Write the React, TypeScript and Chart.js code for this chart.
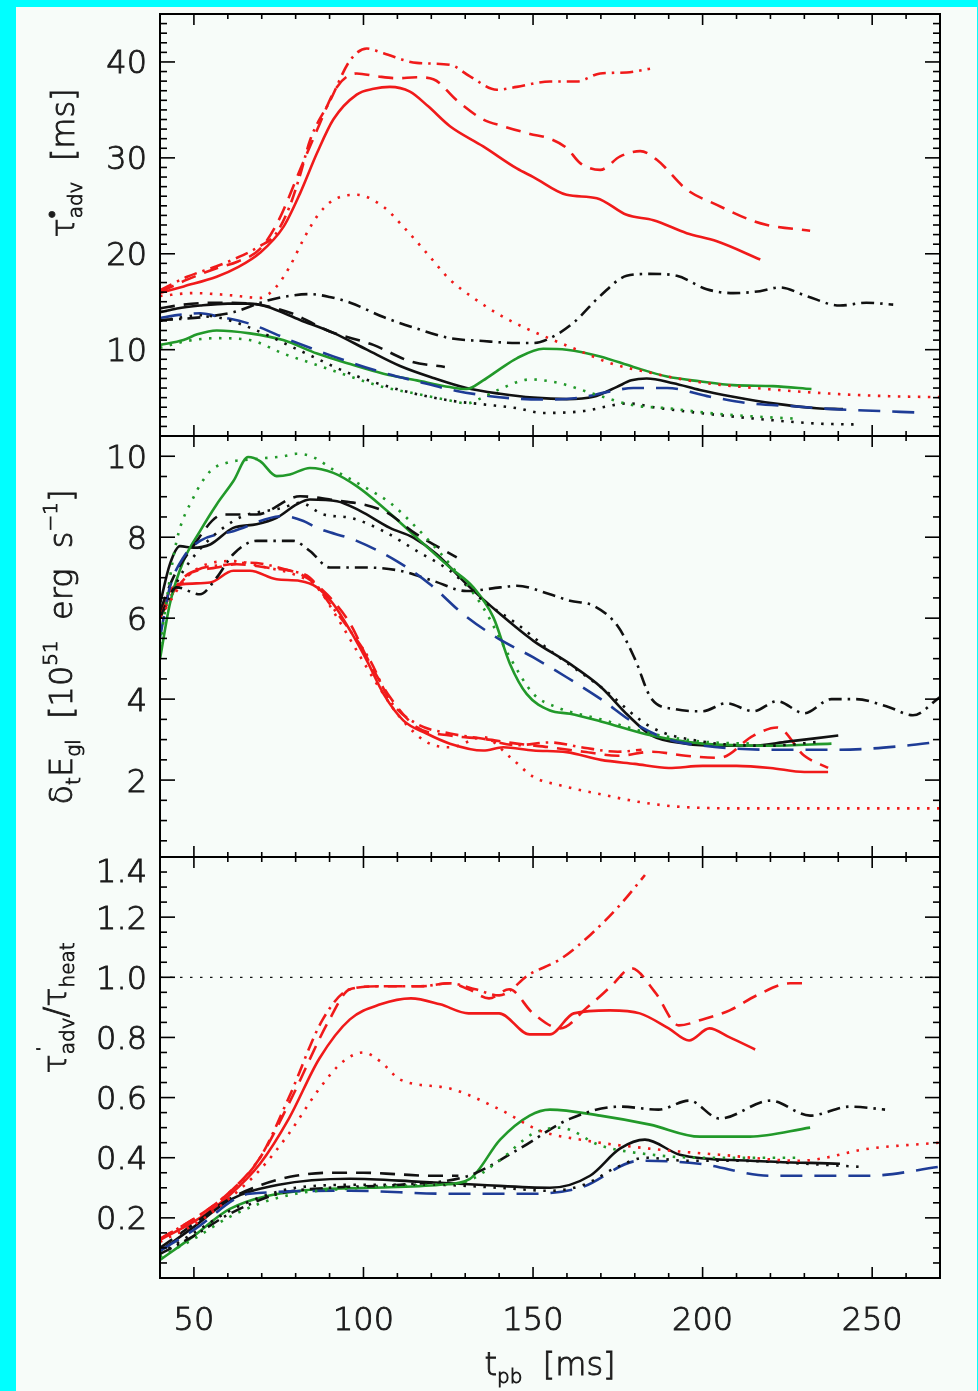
import React, { useEffect, useRef } from "react";
import { Chart, registerables } from "chart.js";

Chart.register(...registerables);

type Pt = [number, number];

// ---- shared time axis (ms post bounce) ----
const T_MIN = 40;
const T_MAX = 270;
const T_MAJOR = [50, 100, 150, 200, 250];
const T_MINOR_STEP = 10;

// ---- panel 1: advection time scale tau_adv [ms] ----
const advRedSolid: Pt[] = [[40,15.9],[47,16.6],[56.7,17.6],[63,18.6],[69.5,20.1],[76.4,22.8],[81.3,26.3],[86.3,30.5],[91.1,34],[98,36.6],[103,37.2],[107.8,37.4],[113.7,36.9],[119,35.4],[125.5,33.3],[135.3,31.2],[145.2,28.9],[150.1,28.0],[159.9,26.15],[168.8,25.8],[177.6,24.06],[185.5,23.5],[195.3,22.15],[204.2,21.3],[217,19.4]];
const advRedDashed: Pt[] = [[40,16.0],[48,17.3],[56.7,18.5],[63,19.2],[69.5,20.5],[75,23.5],[81.3,28.75],[86.3,32.9],[92.2,37.4],[98,38.8],[104,38.5],[110,38.3],[115.7,38.4],[120.6,38.2],[127.5,36],[135.3,34],[141.2,33.3],[149.1,32.5],[155,32.0],[160,31.0],[163.9,29.45],[169.8,28.75],[175.7,30.15],[181.6,30.7],[186.5,29.8],[195.3,26.7],[204.2,25.1],[215,23.4],[219,23.0],[231.7,22.4]];
const advRedDashDot: Pt[] = [[40,16.2],[48,17.6],[56.7,18.7],[61.6,19.4],[69.5,20.8],[74,22],[78.3,25],[81.3,28.2],[84.3,31.9],[90.2,36],[96.1,40.2],[101,41.4],[105.9,40.9],[115.7,39.9],[125.5,39.7],[131.4,38.5],[139.3,37.1],[145.2,37.4],[155,37.96],[162.9,37.96],[169.8,38.8],[177.6,38.9],[184.5,39.3]];
const advRedDotted: Pt[] = [[40,15.6],[50,15.9],[60,15.7],[69.5,15.4],[74.4,16.6],[78.3,18.7],[82.3,21.5],[86.3,23.9],[91.1,25.6],[98,26.15],[105.9,24.9],[111.8,22.8],[118.6,20.1],[125.5,17.3],[132.4,15.4],[140.3,13.6],[148.1,12.2],[156,11.0],[162.9,10.0],[172.7,8.6],[184.5,7.6],[199.2,6.6],[218.9,5.9],[238.5,5.4],[255,5.15],[270,5.05]];
const advBlackSolid: Pt[] = [[40,13.9],[45,14.3],[51.8,14.6],[60,14.8],[66.5,14.8],[71.4,14.5],[81.3,13.1],[91.1,11.75],[101,10.0],[110.8,8.3],[120.6,7.05],[130.4,6.0],[140.3,5.4],[150.1,5.0],[159.9,4.85],[167.8,5.1],[174.6,6.1],[179,6.8],[183.5,7.0],[191.4,6.5],[199.2,5.8],[209,5.1],[220.8,4.4],[233.6,3.9],[241.4,3.8]];
const advBlackDashed: Pt[] = [[40,14.3],[47,14.7],[55.2,14.9],[67,14.8],[72,14.5],[78.8,13.8],[90.1,11.9],[102.9,10.5],[113.7,8.8],[124,8.2]];
const advBlackDashDot: Pt[] = [[40,13.1],[46,13.2],[52.8,13.4],[61.6,13.9],[71.4,15.1],[78,15.6],[84.2,15.8],[90,15.5],[96.1,14.9],[105.9,13.4],[115.7,12.2],[125.5,11.2],[135.3,10.9],[145.2,10.7],[150.1,10.7],[155,11.2],[161.9,12.8],[169.8,15.6],[177.6,17.7],[184.5,17.9],[192.4,17.7],[201.2,16.3],[209,15.9],[216.9,16.1],[222.8,16.5],[230.6,15.6],[240.5,14.6],[248.3,14.9],[256.2,14.7]];
const advBlackDotted: Pt[] = [[40,13.0],[45,13.3],[51.8,13.6],[58,13.3],[66.5,12.3],[81.3,9.9],[96.1,7.5],[110.8,5.8],[125.5,4.7],[135.3,4.3],[145.2,3.9],[153,3.4],[164.9,3.6],[172,4.1],[177.6,4.4],[187.4,3.9],[204.2,3.2],[218.9,2.7],[233.6,2.3],[245.4,2.2]];
const advBlue: Pt[] = [[40,13.3],[45,13.6],[51.8,13.8],[56.7,13.5],[66.5,12.7],[78.3,11.0],[91.1,9.3],[103.9,7.8],[115.7,6.7],[127.5,5.7],[137.4,5.15],[145,4.9],[152,4.8],[163.9,5.0],[172,5.6],[179.6,6.0],[189.5,6.0],[202.2,5.1],[214,4.4],[226.8,4.1],[238.5,3.8],[252.3,3.6],[263,3.45]];
const advGreenSolid: Pt[] = [[40,10.5],[46.9,11.0],[51,11.6],[56.7,12.0],[66.5,11.7],[76.3,11.0],[86.3,9.6],[96.1,8.5],[105.9,7.5],[115.7,6.8],[125.5,6.1],[130.4,5.9],[135.3,6.8],[140.3,8.0],[145.2,9.1],[153,10.1],[159.9,10.0],[169.8,9.3],[179.6,8.2],[189.5,7.2],[199.2,6.7],[209,6.3],[220.8,6.2],[232.1,5.9]];
const advGreenDotted: Pt[] = [[40,10.2],[47.9,10.9],[56.7,11.2],[66.5,11.0],[76.3,9.6],[86.3,8.4],[96.1,7.2],[105.9,6.1],[115.7,5.4],[125.5,4.7],[130.4,4.4],[135,5.0],[140.3,5.9],[149.1,6.9],[157.9,6.5],[167.8,5.4],[179.6,4.2],[189.5,3.9],[203.3,3.35],[217,3.0],[227.8,2.8]];

// ---- panel 2: gain rate d/dt E_gl [1e51 erg/s] ----
const gainRedSolid: Pt[] = [[40,6.0],[42.9,6.67],[46.9,6.84],[54.8,6.88],[61.6,7.17],[66.5,7.17],[74.4,6.96],[81.3,6.92],[86.3,6.76],[91.1,6.35],[96.1,5.69],[101,4.95],[105.9,4.13],[111.8,3.47],[118.6,3.15],[125.5,2.9],[135.3,2.73],[141.2,2.81],[150.1,2.73],[159.9,2.69],[170,2.5],[180,2.4],[190,2.3],[200,2.35],[210,2.35],[220,2.3],[230,2.2],[237,2.2]];
const gainRedDashed: Pt[] = [[40,6.02],[46.9,7.0],[56.7,7.25],[62.6,7.33],[71.4,7.25],[81.3,7.09],[89.2,6.59],[96.1,5.86],[101,5.03],[107.8,4.05],[115.7,3.31],[125.5,3.1],[135.3,3.02],[145.2,2.9],[155,2.81],[165,2.7],[175,2.6],[185,2.7],[195,2.6],[205,2.55],[215,3.1],[222,3.3],[230,2.6],[237,2.3]];
const gainRedDashDot: Pt[] = [[40,6.18],[48.8,7.09],[60.6,7.33],[66.5,7.37],[78.3,7.17],[84.2,7.0],[90.1,6.35],[96.1,5.69],[102,4.95],[107.8,3.97],[115.7,3.39],[125.5,3.15],[135.3,3.02],[145.2,2.86],[155,2.93],[165,2.8],[175,2.7],[182,2.75]];
const gainRedDotted: Pt[] = [[40,6.02],[48.8,7.09],[61.6,7.41],[71.4,7.25],[79.3,7.09],[86.3,6.76],[92.2,6.02],[98,5.2],[103.9,4.38],[110.8,3.55],[118.6,2.94],[125.5,2.81],[135.3,3.06],[143.2,2.57],[150.1,2.08],[158,1.87],[170,1.65],[182,1.45],[195,1.33],[215,1.3],[240,1.3],[270,1.3]];
const gainBlackSolid: Pt[] = [[40,6.35],[42.9,7.33],[45.9,7.78],[49.8,7.74],[54.8,7.82],[61.6,8.23],[68.5,8.32],[74.4,8.48],[80.3,8.81],[84.2,8.93],[92.2,8.89],[99,8.65],[107.8,8.23],[114.7,7.99],[121.6,7.58],[130.4,6.84],[140.3,6.1],[150.1,5.44],[160.9,4.87],[170,4.3],[178,3.6],[185,3.1],[195,2.9],[205,2.85],[215,2.85],[225,2.95],[240,3.1]];
const gainBlackDashed: Pt[] = [[40,6.18],[43.9,7.0],[48.8,7.66],[58.7,8.56],[68.5,8.56],[81.3,9.01],[90.1,8.93],[105.9,8.65],[115.7,8.07],[127.5,7.5]];
const gainBlackDashDot: Pt[] = [[40,6.02],[44.9,6.76],[51.8,6.59],[56.7,7.0],[61.6,7.58],[68.5,7.91],[79.3,7.91],[84.2,7.66],[90.1,7.25],[100.9,7.25],[110.8,7.17],[120.6,6.92],[130.4,6.67],[140.3,6.76],[145.2,6.8],[155,6.59],[160.9,6.43],[168,6.3],[175,5.8],[180,5.0],[185,4.0],[192,3.75],[200,3.7],[207,3.9],[215,3.7],[222,3.95],[230,3.65],[238,4.0],[245,4.0],[255,3.8],[262,3.6],[270,4.05]];
const gainBlackDotted: Pt[] = [[40,6.0],[46.9,7.17],[61.6,8.4],[76.3,8.73],[81.3,8.85],[88.2,8.56],[96.1,8.48],[105.9,8.15],[115.7,7.66],[125.5,7.17],[135.3,6.43],[145.2,5.86],[155,5.2],[170,4.3],[185,3.3],[200,2.95],[220,2.85],[235,2.95]];
const gainBlue: Pt[] = [[40,5.52],[42.9,6.76],[46.9,7.5],[51.8,7.91],[61.6,8.15],[76.3,8.52],[82.3,8.4],[86.3,8.23],[98,7.91],[109.8,7.41],[119.6,6.84],[129.4,6.1],[139.3,5.52],[150.1,5.03],[159.9,4.54],[170,4.0],[180,3.4],[190,3.0],[200,2.85],[220,2.75],[240,2.75],[260,2.85],[270,2.95]];
const gainGreenSolid: Pt[] = [[40,4.99],[42.9,6.35],[46.9,7.41],[51.8,8.15],[56.7,8.81],[61.6,9.38],[66,9.98],[69.5,9.88],[74.4,9.51],[78.3,9.55],[84.2,9.71],[91.1,9.59],[98,9.26],[105.9,8.73],[115.7,7.99],[125.5,7.25],[132.4,6.76],[138.3,6.02],[143.2,4.87],[148.1,4.13],[155,3.72],[160.9,3.64],[170,3.45],[185,3.1],[200,2.9],[220,2.85],[238,2.9]];
const gainGreenDotted: Pt[] = [[40,5.36],[44.9,7.91],[49.8,8.97],[54.8,9.63],[59.7,9.84],[66.5,9.92],[76.3,10.0],[80.3,10.06],[85.1,9.98],[91.1,9.67],[99.9,9.26],[107.8,8.85],[115.7,8.23],[125.5,7.33],[135.3,6.26],[143.2,5.03],[150.1,4.13],[157,3.8],[170,3.5],[185,3.15],[200,2.95],[215,2.9]];

// ---- panel 3: ratio of advection to heating time scale ----
const ratioRedSolid: Pt[] = [[40,0.127],[51.8,0.2],[60,0.27],[69.5,0.38],[78,0.53],[87,0.73],[96,0.86],[105,0.91],[114,0.93],[122.6,0.91],[131,0.88],[140,0.88],[149,0.81],[155,0.81],[162,0.88],[172.7,0.89],[181.5,0.88],[190,0.83],[196,0.79],[202,0.83],[208,0.8],[215.5,0.76]];
const ratioRedDashed: Pt[] = [[40,0.13],[51.8,0.21],[60,0.28],[69.5,0.4],[78,0.58],[90,0.86],[96,0.96],[105,0.97],[116.7,0.97],[125.5,0.98],[131,0.96],[137,0.93],[143,0.96],[150,0.88],[158,0.83],[166,0.9],[173,0.97],[179,1.03],[186,0.95],[193,0.84],[200,0.86],[208,0.89],[216,0.94],[225.8,0.98],[231.7,0.98]];
const ratioRedDashDot: Pt[] = [[40,0.13],[51.8,0.21],[60,0.28],[69.5,0.4],[78,0.6],[88,0.86],[96,0.96],[105,0.97],[116.7,0.97],[125.5,0.98],[133,0.96],[140,0.94],[149,1.01],[158,1.06],[166.8,1.14],[175.6,1.24],[183,1.34]];
const ratioRedDotted: Pt[] = [[40,0.12],[51.8,0.19],[60,0.26],[69.5,0.36],[78,0.48],[87,0.63],[94,0.72],[100,0.75],[105,0.72],[110.8,0.66],[125.5,0.63],[140.3,0.56],[152,0.49],[164,0.46],[184.5,0.43],[205,0.41],[228.7,0.39],[249,0.43],[270,0.45]];
const ratioBlackSolid: Pt[] = [[40,0.09],[50,0.17],[60.6,0.26],[75,0.31],[96,0.33],[116.7,0.32],[134,0.31],[155,0.3],[166.8,0.34],[175.6,0.43],[183,0.46],[193.3,0.41],[214,0.39],[240.5,0.38]];
const ratioBlackDashed: Pt[] = [[40,0.1],[50,0.18],[60,0.26],[70,0.31],[80,0.34],[90,0.35],[100,0.35],[110,0.345],[120,0.34],[128,0.34]];
const ratioBlackDashDot: Pt[] = [[40,0.08],[50,0.14],[60,0.21],[75,0.28],[90,0.3],[110.8,0.31],[131,0.34],[146,0.43],[161,0.53],[175.6,0.57],[187,0.56],[196,0.59],[205,0.53],[220,0.59],[231.7,0.54],[243.5,0.57],[253.8,0.56]];
const ratioBlackDotted: Pt[] = [[40,0.08],[50,0.15],[60,0.22],[70,0.27],[80,0.3],[100,0.31],[120,0.31],[140,0.3],[155,0.29],[165,0.31],[175,0.37],[183,0.4],[195,0.39],[210,0.39],[230,0.38],[246,0.37]];
const ratioBlue: Pt[] = [[40,0.09],[50,0.16],[66.5,0.28],[96,0.29],[125.5,0.28],[149,0.28],[163.9,0.3],[181.5,0.39],[199,0.38],[220,0.34],[249,0.34],[270,0.37]];
const ratioGreenSolid: Pt[] = [[40,0.06],[50,0.14],[60.6,0.23],[81.3,0.29],[102,0.3],[122.6,0.31],[131.4,0.33],[140.3,0.46],[149,0.54],[155,0.56],[169.8,0.54],[184.5,0.51],[199.2,0.47],[214,0.47],[231.7,0.5]];
const ratioGreenDotted: Pt[] = [[40,0.07],[50,0.13],[60,0.2],[70,0.25],[80,0.28],[100,0.3],[120,0.31],[130,0.32],[140,0.39],[150,0.48],[158,0.5],[170,0.44],[185,0.41],[200,0.4],[215,0.4],[228,0.4]];
const ratioUnity: Pt[] = [[40, 1.0], [270, 1.0]];

// ---- styles ----
const RED = "#f01a1a";
const BLACK = "#111111";
const GREEN = "#22992a";
const BLUE = "#1e3c96";
const DASH: Record<string, number[]> = {
  solid: [],
  dashed: [15, 9],
  dashDot: [13, 6, 2.5, 6],
  dotted: [2.5, 7.5],
  longDash: [22, 12],
};
const FONT = '"DejaVu Sans", "Liberation Sans", sans-serif';
const WEIGHT = "200";
const TEXT = "#1c1c1c";
const TEXT_STROKE = 0.9;

type Series = { data: Pt[]; color: string; dash: string; width?: number };

type Seg = { s: string; size: number; dy: number; adv?: boolean; dx?: number };

type PanelSpec = {
  top: number;
  bottom: number;
  yMin: number;
  yMax: number;
  yMajor: number[];
  yMinorStep: number;
  yLabels: { v: number; text: string; dy?: number }[];
  title: Seg[];
  titleX: number;
  titleY: number;
  showX: boolean;
  series: Series[];
};

const PLOT_LEFT = 160;
const PLOT_RIGHT = 940;
const W = 978;
const H = 1391;

const panels: PanelSpec[] = [
  {
    top: 14,
    bottom: 436,
    yMin: 1,
    yMax: 45,
    yMajor: [10, 20, 30, 40],
    yMinorStep: 1,
    yLabels: [10, 20, 30, 40].map((v) => ({ v, text: String(v) })),
    title: [
      { s: "τ", size: 32, dy: 0 },
      { s: "•", size: 22, dy: -15, adv: false, dx: 0 },
      { s: "adv", size: 20, dy: 8 },
      { s: "  [ms]", size: 32, dy: 0 },
    ],
    titleX: 74,
    titleY: 163,
    showX: false,
    series: [
      { data: advRedDotted, color: RED, dash: "dotted" },
      { data: advGreenDotted, color: GREEN, dash: "dotted" },
      { data: advBlackDotted, color: BLACK, dash: "dotted" },
      { data: advBlue, color: BLUE, dash: "longDash" },
      { data: advBlackDashDot, color: BLACK, dash: "dashDot" },
      { data: advBlackDashed, color: BLACK, dash: "dashed" },
      { data: advGreenSolid, color: GREEN, dash: "solid" },
      { data: advBlackSolid, color: BLACK, dash: "solid" },
      { data: advRedDashDot, color: RED, dash: "dashDot" },
      { data: advRedDashed, color: RED, dash: "dashed" },
      { data: advRedSolid, color: RED, dash: "solid" },
    ],
  },
  {
    top: 436,
    bottom: 857,
    yMin: 0.1,
    yMax: 10.5,
    yMajor: [2, 4, 6, 8, 10],
    yMinorStep: 0.5,
    yLabels: [2, 4, 6, 8, 10].map((v) => ({ v, text: String(v) })),
    title: [
      { s: "δ", size: 32, dy: 0 },
      { s: "t", size: 20, dy: 8 },
      { s: "E", size: 32, dy: 0 },
      { s: "gl", size: 20, dy: 8 },
      { s: "  [10", size: 32, dy: 0 },
      { s: "51", size: 20, dy: -15 },
      { s: "  erg  s", size: 32, dy: 0 },
      { s: "−1", size: 20, dy: -15 },
      { s: "]", size: 32, dy: 0 },
    ],
    titleX: 72,
    titleY: 647,
    showX: false,
    series: [
      { data: gainRedDotted, color: RED, dash: "dotted" },
      { data: gainGreenDotted, color: GREEN, dash: "dotted" },
      { data: gainBlackDotted, color: BLACK, dash: "dotted" },
      { data: gainBlue, color: BLUE, dash: "longDash" },
      { data: gainBlackDashDot, color: BLACK, dash: "dashDot" },
      { data: gainBlackDashed, color: BLACK, dash: "dashed" },
      { data: gainGreenSolid, color: GREEN, dash: "solid" },
      { data: gainBlackSolid, color: BLACK, dash: "solid" },
      { data: gainRedDashDot, color: RED, dash: "dashDot" },
      { data: gainRedDashed, color: RED, dash: "dashed" },
      { data: gainRedSolid, color: RED, dash: "solid" },
    ],
  },
  {
    top: 857,
    bottom: 1278,
    yMin: 0,
    yMax: 1.4,
    yMajor: [0.2, 0.4, 0.6, 0.8, 1.0, 1.2, 1.4],
    yMinorStep: 0.05,
    yLabels: [0.2, 0.4, 0.6, 0.8, 1.0, 1.2, 1.4].map((v) => ({
      v,
      text: v.toFixed(1),
      dy: v === 1.4 ? 13 : 0,
    })),
    title: [
      { s: "τ", size: 32, dy: 0 },
      { s: "ˈ", size: 20, dy: -14, adv: false, dx: 2 },
      { s: "adv", size: 20, dy: 8 },
      { s: "/", size: 32, dy: 0 },
      { s: "τ", size: 32, dy: 0 },
      { s: "heat", size: 20, dy: 8 },
    ],
    titleX: 66,
    titleY: 1008,
    showX: true,
    series: [
      { data: ratioUnity, color: BLACK, dash: "dotted", width: 1.3 },
      { data: ratioRedDotted, color: RED, dash: "dotted" },
      { data: ratioGreenDotted, color: GREEN, dash: "dotted" },
      { data: ratioBlackDotted, color: BLACK, dash: "dotted" },
      { data: ratioBlue, color: BLUE, dash: "longDash" },
      { data: ratioBlackDashDot, color: BLACK, dash: "dashDot" },
      { data: ratioBlackDashed, color: BLACK, dash: "dashed" },
      { data: ratioGreenSolid, color: GREEN, dash: "solid" },
      { data: ratioBlackSolid, color: BLACK, dash: "solid" },
      { data: ratioRedDashDot, color: RED, dash: "dashDot" },
      { data: ratioRedDashed, color: RED, dash: "dashed" },
      { data: ratioRedSolid, color: RED, dash: "solid" },
    ],
  },
];

const X_TITLE: Seg[] = [
  { s: "t", size: 32, dy: 0 },
  { s: "pb", size: 20, dy: 8 },
  { s: "  [ms]", size: 32, dy: 0 },
];

function fontOf(size: number) {
  return `${WEIGHT} ${size}px ${FONT}`;
}

// Filled text with a hairline outline, giving an even, medium stroke weight
function paintText(ctx: CanvasRenderingContext2D, s: string, x: number, y: number) {
  ctx.fillText(s, x, y);
  ctx.strokeText(s, x, y);
}

function drawRich(ctx: CanvasRenderingContext2D, segs: Seg[], x: number, y: number, rot: number) {
  ctx.save();
  ctx.translate(x, y);
  ctx.rotate(rot);
  ctx.fillStyle = TEXT;
  ctx.strokeStyle = TEXT;
  ctx.lineWidth = TEXT_STROKE;
  ctx.setLineDash([]);
  ctx.textBaseline = "alphabetic";
  ctx.textAlign = "left";
  let total = 0;
  for (const g of segs) {
    ctx.font = fontOf(g.size);
    if (g.adv !== false) total += ctx.measureText(g.s).width;
  }
  let cx = -total / 2;
  for (const g of segs) {
    ctx.font = fontOf(g.size);
    const w = ctx.measureText(g.s).width;
    paintText(ctx, g.s, cx + (g.dx || 0), g.dy);
    if (g.adv !== false) cx += w;
  }
  ctx.restore();
}

// Box frame with inward ticks on all four sides, tick labels and titles
const framePlugin = {
  id: "idlFrame",
  afterDatasetsDraw(chart: any, _args: any, opts: any) {
    const spec: PanelSpec = opts.spec;
    const { ctx, chartArea: a } = chart;
    const xs = chart.scales.x;
    const ys = chart.scales.y;
    ctx.save();
    ctx.strokeStyle = "#000";
    ctx.lineWidth = 2;
    ctx.setLineDash([]);
    ctx.strokeRect(a.left, a.top, a.right - a.left, a.bottom - a.top);

    const seg = (x1: number, y1: number, x2: number, y2: number) => {
      ctx.beginPath();
      ctx.moveTo(x1, y1);
      ctx.lineTo(x2, y2);
      ctx.stroke();
    };

    ctx.lineWidth = 1.6;
    // time ticks on top and bottom edges
    for (let t = T_MIN; t <= T_MAX + 1e-6; t += T_MINOR_STEP) {
      const px = xs.getPixelForValue(t);
      const len = T_MAJOR.includes(t) ? 11 : 5;
      seg(px, a.top, px, a.top + len);
      seg(px, a.bottom, px, a.bottom - len);
    }
    // value ticks on left and right edges
    const nMinor = Math.round((spec.yMax - spec.yMin) / spec.yMinorStep) + 2;
    const start = Math.ceil(spec.yMin / spec.yMinorStep - 1e-6) * spec.yMinorStep;
    for (let i = 0; i < nMinor; i++) {
      const v = +(start + i * spec.yMinorStep).toFixed(4);
      if (v > spec.yMax + 1e-6) break;
      const py = ys.getPixelForValue(v);
      const major = spec.yMajor.some((m) => Math.abs(m - v) < 1e-6);
      const len = major ? 15 : 7;
      seg(a.left, py, a.left + len, py);
      seg(a.right, py, a.right - len, py);
    }

    // tick labels
    ctx.fillStyle = TEXT;
    ctx.strokeStyle = TEXT;
    ctx.lineWidth = TEXT_STROKE;
    ctx.font = fontOf(32);
    ctx.textAlign = "right";
    ctx.textBaseline = "alphabetic";
    for (const l of spec.yLabels) {
      const py = ys.getPixelForValue(l.v);
      paintText(ctx, l.text, a.left - 13, py + 11.5 + (l.dy || 0));
    }
    if (spec.showX) {
      ctx.textAlign = "center";
      for (const t of T_MAJOR) {
        paintText(ctx, String(t), xs.getPixelForValue(t), a.bottom + 52);
      }
      drawRich(ctx, X_TITLE, (a.left + a.right) / 2, 1375, 0);
    }
    drawRich(ctx, spec.title, spec.titleX, spec.titleY, -Math.PI / 2);
    ctx.restore();
  },
};

function PanelChart({ spec }: { spec: PanelSpec }) {
  const ref = useRef<HTMLCanvasElement>(null);
  useEffect(() => {
    if (!ref.current) return;
    const chart = new Chart(ref.current, {
      type: "line",
      data: {
        datasets: spec.series.map((s) => ({
          data: s.data.map(([x, y]) => ({ x, y })),
          borderColor: s.color,
          backgroundColor: s.color,
          borderWidth: s.width ?? 2.6,
          borderDash: DASH[s.dash],
          borderCapStyle: "butt" as const,
          borderJoinStyle: "round" as const,
          pointRadius: 0,
          fill: false,
          cubicInterpolationMode: "monotone" as const,
          tension: 0.4,
        })),
      },
      options: {
        responsive: false,
        animation: false,
        devicePixelRatio: 1,
        events: [],
        layout: {
          padding: {
            left: PLOT_LEFT,
            right: W - PLOT_RIGHT,
            top: spec.top,
            bottom: H - spec.bottom,
          },
        },
        scales: {
          x: { type: "linear", min: T_MIN, max: T_MAX, display: false },
          y: { type: "linear", min: spec.yMin, max: spec.yMax, display: false },
        },
        plugins: {
          legend: { display: false },
          tooltip: { enabled: false },
          idlFrame: { spec },
        } as any,
      },
      plugins: [framePlugin],
    });
    return () => chart.destroy();
  }, [spec]);
  return (
    <canvas
      ref={ref}
      width={W}
      height={H}
      style={{ position: "absolute", left: 0, top: 0, width: W, height: H }}
    />
  );
}

export default function App() {
  return (
    <div
      style={{
        position: "absolute",
        left: 0,
        top: 0,
        width: W,
        height: H,
        background: "#00ffff",
        overflow: "hidden",
      }}
    >
      <div
        style={{
          position: "absolute",
          left: 16,
          top: 7,
          width: 961,
          height: H - 7,
          background: "#f7fcf9",
        }}
      />
      {panels.map((p, i) => (
        <PanelChart key={i} spec={p} />
      ))}
    </div>
  );
}
